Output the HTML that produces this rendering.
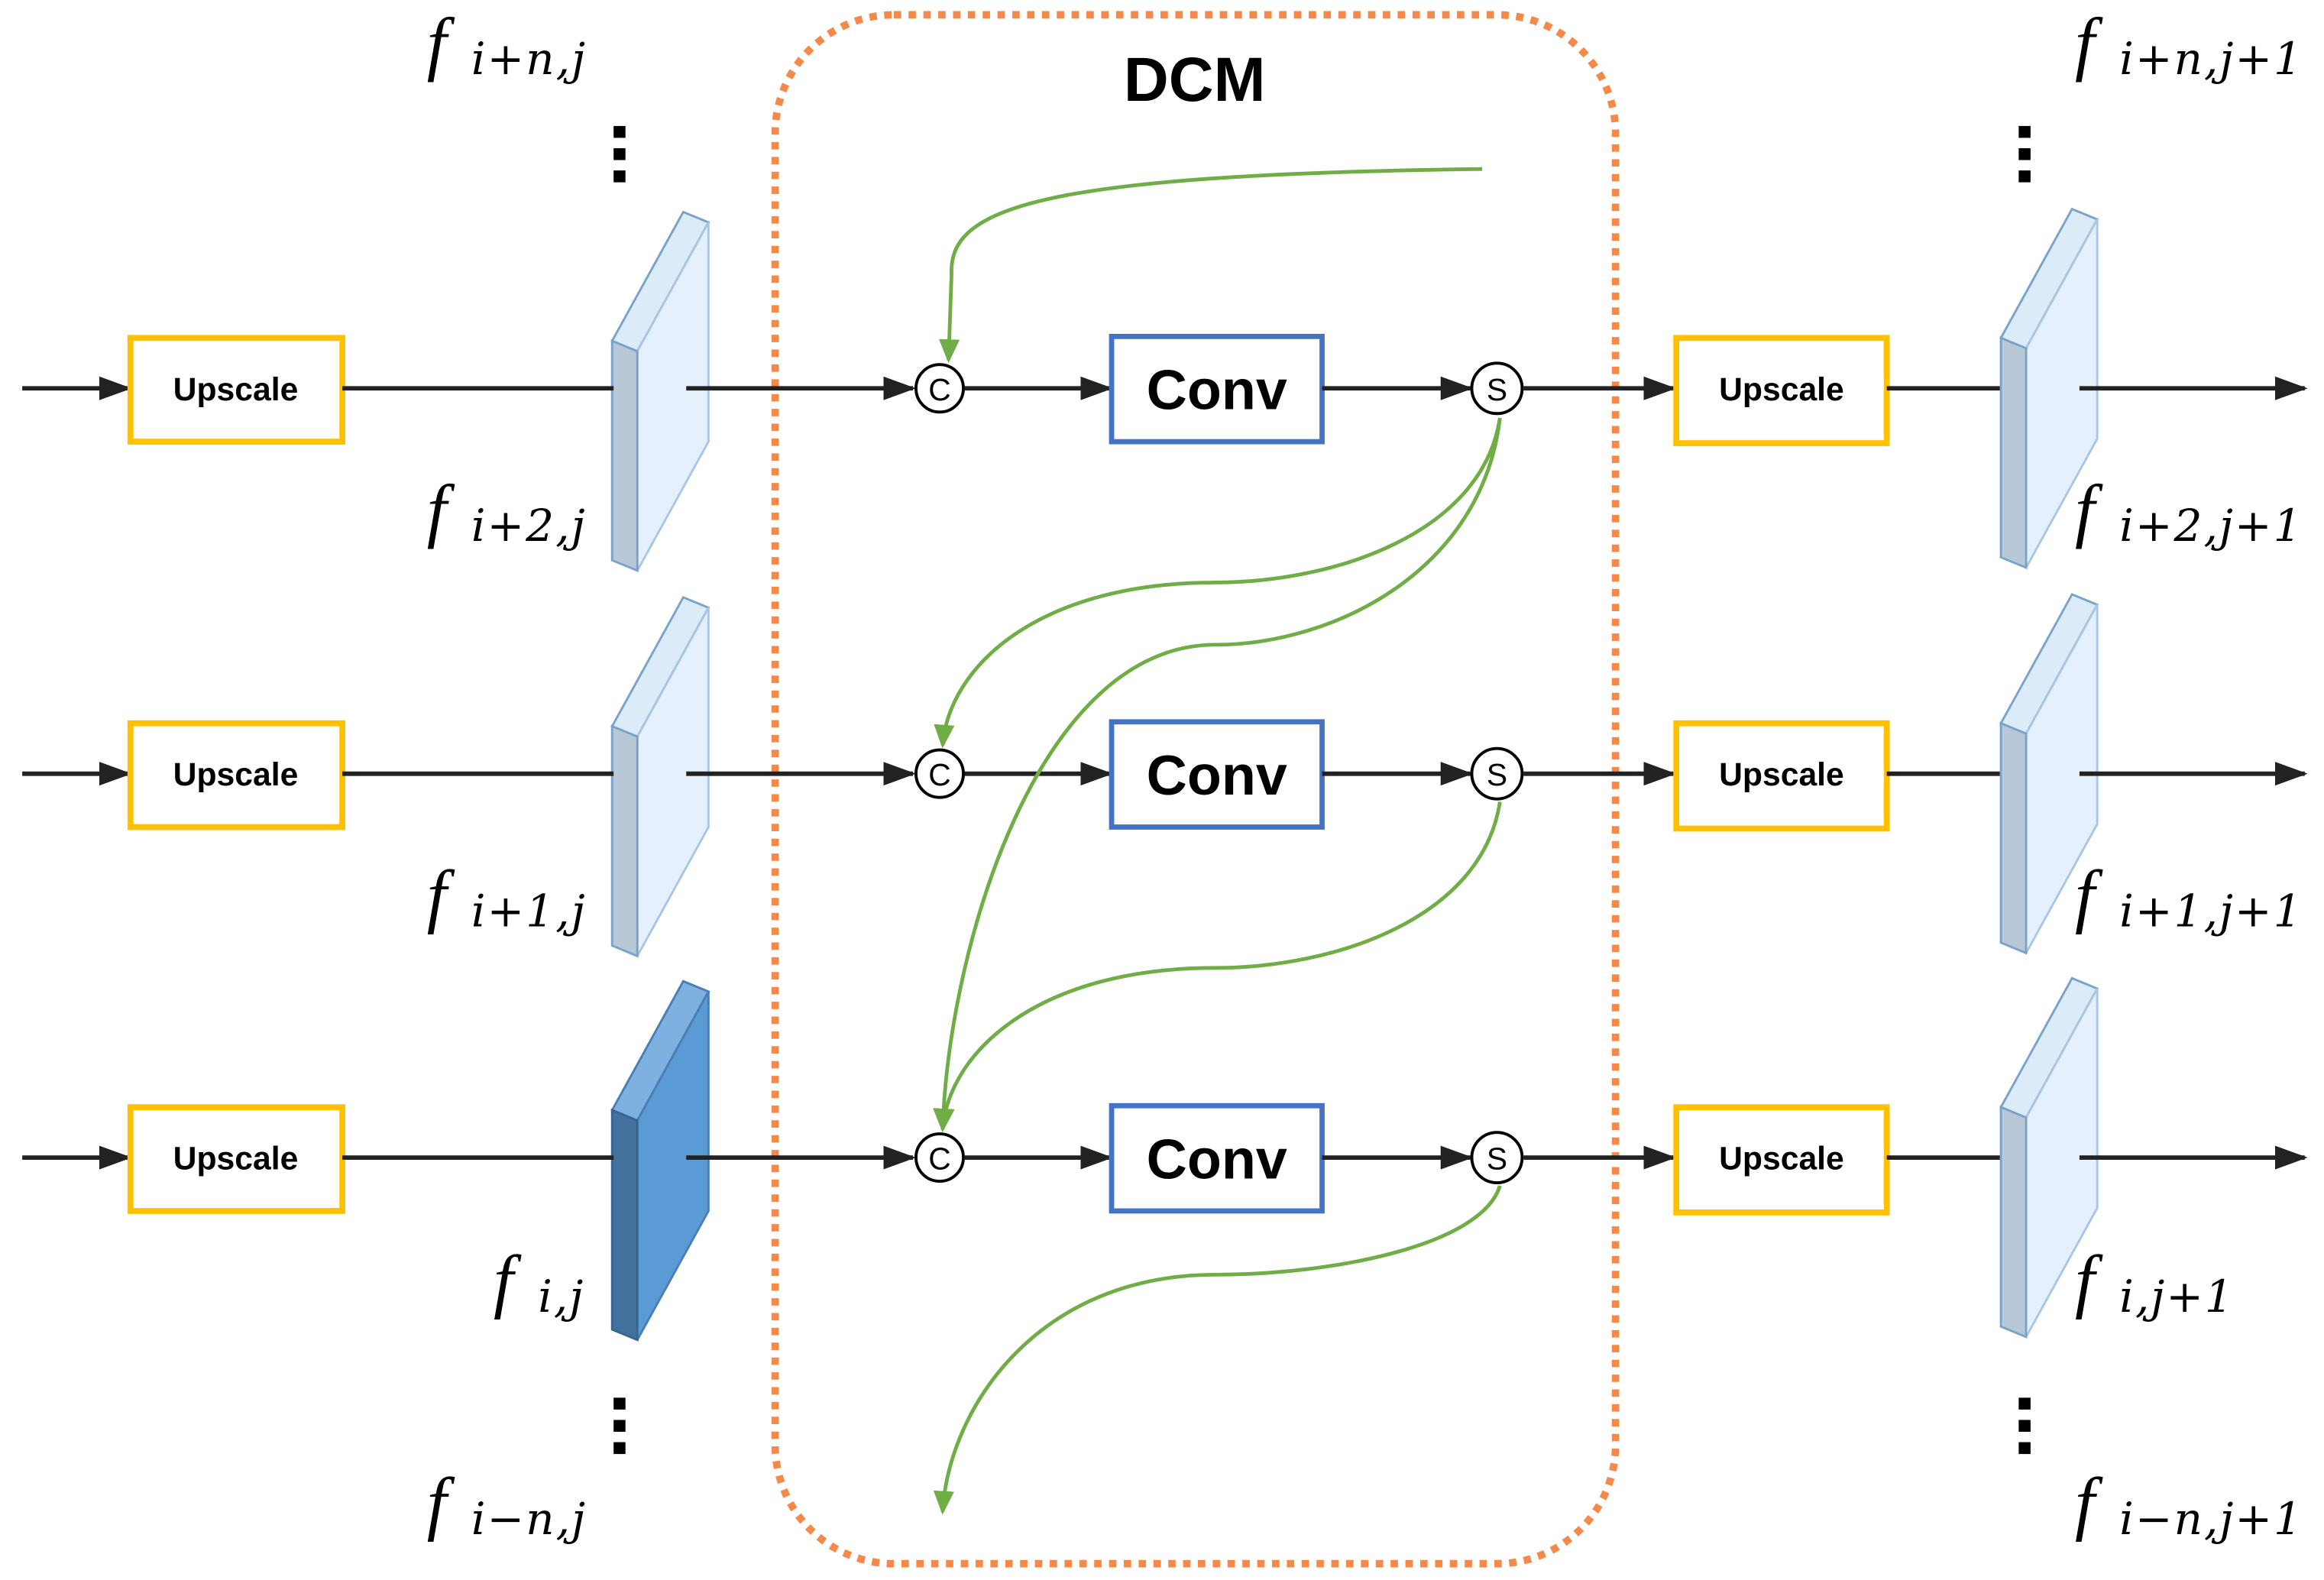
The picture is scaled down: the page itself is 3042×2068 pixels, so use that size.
<!DOCTYPE html>
<html><head><meta charset="utf-8"><style>
html,body{margin:0;padding:0;background:#fff;width:3042px;height:2068px;overflow:hidden}
svg{display:block}
.up{font-family:"Liberation Sans",sans-serif;font-weight:bold;font-size:22px;fill:#000}
.cv{font-family:"Liberation Sans",sans-serif;font-weight:bold;font-size:38px;fill:#000}
.f{font-family:"Liberation Serif",serif;font-style:italic;font-size:48px;fill:#000}
.s{font-family:"DejaVu Serif",serif;font-style:italic;font-size:30px;fill:#000;letter-spacing:1px}
</style></head><body>
<svg width="3042" height="2068" viewBox="0 0 1568 1066" preserveAspectRatio="none" xmlns="http://www.w3.org/2000/svg">
<defs>
<marker id="ab" markerWidth="22" markerHeight="16" refX="20" refY="8" orient="auto" markerUnits="userSpaceOnUse"><path d="M0,0 L22,8 L0,16 z" fill="#222"/></marker>
<marker id="ag" markerWidth="16" markerHeight="16" refX="14" refY="8" orient="auto" markerUnits="userSpaceOnUse"><path d="M0,1 L16,8 L0,15 z" fill="#70AD47"/></marker>
<g id="slabL">
<path d="M413,230 L461,143 L478,150 L430,237 Z" fill="#DCEBF8" stroke="#7AA3CC" stroke-width="1.5"/>
<path d="M430,237 L478,150 L478,298 L430,385 Z" fill="#E4F1FC" stroke="#A9C6E4" stroke-width="1.5"/>
<path d="M413,230 L430,237 L430,385 L413,378 Z" fill="#B9C8D6" stroke="#7AA3CC" stroke-width="1.5"/>
</g>
</defs>
<rect x="523" y="10" width="567" height="1045" rx="80" fill="none" stroke="#F4894A" stroke-width="5" stroke-dasharray="5,5"/>
<text x="806" y="68" text-anchor="middle" font-family="Liberation Sans,sans-serif" font-weight="bold" font-size="42">DCM</text>

<use href="#slabL"/>
<use href="#slabL" transform="translate(0,260)"/>
<g transform="translate(0,519)">
<path d="M413,230 L461,143 L478,150 L430,237 Z" fill="#7EB0E0" stroke="#4A7FB5" stroke-width="1.5"/>
<path d="M430,237 L478,150 L478,298 L430,385 Z" fill="#5B9BD5" stroke="#4A7FB5" stroke-width="1.5"/>
<path d="M413,230 L430,237 L430,385 L413,378 Z" fill="#41719C" stroke="#3A6590" stroke-width="1.5"/>
</g>

<g id="row">
<line x1="15" y1="262" x2="87" y2="262" stroke="#222" stroke-width="3" marker-end="url(#ab)"/>
<rect x="88" y="228" width="143" height="70" fill="#fff" stroke="#FFC000" stroke-width="4"/>
<text class="up" x="159" y="270" text-anchor="middle">Upscale</text>
<line x1="231" y1="262" x2="414" y2="262" stroke="#222" stroke-width="3"/>
<line x1="463" y1="262" x2="616" y2="262" stroke="#222" stroke-width="3" marker-end="url(#ab)"/>
<circle cx="634" cy="262" r="16" fill="#fff" stroke="#000" stroke-width="2"/>
<text x="634" y="270" text-anchor="middle" font-family="Liberation Sans,sans-serif" font-size="21">C</text>
<line x1="651" y1="262" x2="749" y2="262" stroke="#222" stroke-width="3" marker-end="url(#ab)"/>
<rect x="750" y="227" width="142" height="71" fill="#fff" stroke="#4472C4" stroke-width="3.5"/>
<text class="cv" x="821" y="276" text-anchor="middle">Conv</text>
<line x1="892" y1="262" x2="992" y2="262" stroke="#222" stroke-width="3" marker-end="url(#ab)"/>
<circle cx="1010" cy="262" r="17" fill="#fff" stroke="#000" stroke-width="2"/>
<text x="1010" y="270" text-anchor="middle" font-family="Liberation Sans,sans-serif" font-size="21">S</text>
<line x1="1028" y1="262" x2="1129" y2="262" stroke="#222" stroke-width="3" marker-end="url(#ab)"/>
<rect x="1131" y="228" width="142" height="71" fill="#fff" stroke="#FFC000" stroke-width="4"/>
<text class="up" x="1202" y="270" text-anchor="middle">Upscale</text>
<line x1="1273" y1="262" x2="1352" y2="262" stroke="#222" stroke-width="3"/>
<use href="#slabL" transform="translate(937,-2)"/>
<line x1="1403" y1="262" x2="1555" y2="262" stroke="#222" stroke-width="3" marker-end="url(#ab)"/>
</g>
<use href="#row" transform="translate(0,260)"/>
<use href="#row" transform="translate(0,519)"/>

<g fill="none" stroke="#70AD47" stroke-width="2.5">
<path d="M1000,114 C 700,118 640,140 642,185 L 640,243" marker-end="url(#ag)"/>
<path d="M1012,282 C 1000,360 900,393 820,393 C 700,393 640,450 636,503" marker-end="url(#ag)"/>
<path d="M1012,282 C 1000,385 900,435 820,435 C 700,435 640,640 636,762" marker-end="url(#ag)"/>
<path d="M1012,541 C 1000,620 900,653 820,653 C 700,653 640,710 636,762" marker-end="url(#ag)"/>
<path d="M1012,800 C 1000,840 900,860 820,860 C 700,860 640,950 636,1020" marker-end="url(#ag)"/>
</g>
<text class="f" x="288" y="45">f</text><text class="s" x="318" y="50">i+n,j</text>
<text class="f" x="288" y="360">f</text><text class="s" x="318" y="365">i+2,j</text>
<text class="f" x="288" y="620">f</text><text class="s" x="318" y="625">i+1,j</text>
<text class="f" x="333" y="880">f</text><text class="s" x="363" y="885">i,j</text>
<text class="f" x="288" y="1030">f</text><text class="s" x="318" y="1035">i−n,j</text>
<text class="f" x="1400" y="45">f</text><text class="s" x="1430" y="50">i+n,j+1</text>
<text class="f" x="1400" y="360">f</text><text class="s" x="1430" y="365">i+2,j+1</text>
<text class="f" x="1400" y="620">f</text><text class="s" x="1430" y="625">i+1,j+1</text>
<text class="f" x="1400" y="880">f</text><text class="s" x="1430" y="885">i,j+1</text>
<text class="f" x="1400" y="1030">f</text><text class="s" x="1430" y="1035">i−n,j+1</text>
<g fill="#000">
<rect x="414" y="85" width="8" height="8"/><rect x="414" y="100" width="8" height="8"/><rect x="414" y="115" width="8" height="8"/>
<rect x="414" y="943" width="8" height="8"/><rect x="414" y="958" width="8" height="8"/><rect x="414" y="973" width="8" height="8"/>
<rect x="1362" y="85" width="8" height="8"/><rect x="1362" y="100" width="8" height="8"/><rect x="1362" y="115" width="8" height="8"/>
<rect x="1362" y="943" width="8" height="8"/><rect x="1362" y="958" width="8" height="8"/><rect x="1362" y="973" width="8" height="8"/>
</g>
</svg>
</body></html>
